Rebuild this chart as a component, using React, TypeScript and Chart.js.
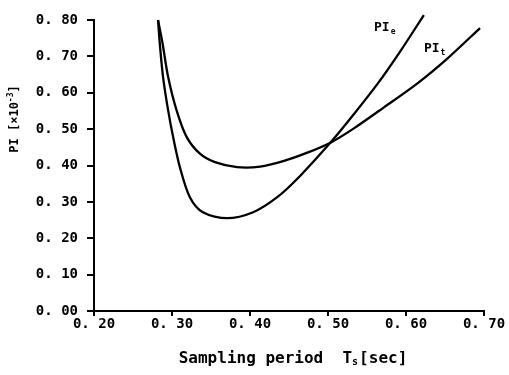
import { useEffect, useRef } from 'react';
import { Chart, registerables } from 'chart.js';

Chart.register(...registerables);

const xTickLabels = ['0. 20', '0. 30', '0. 40', '0. 50', '0. 60', '0. 70'];
const yTickLabels = ['0. 00', '0. 10', '0. 20', '0. 30', '0. 40', '0. 50', '0. 60', '0. 70', '0. 80'];

const peX = [0.2821, 0.2843, 0.2885, 0.2950, 0.3014, 0.3100, 0.3229, 0.3396, 0.3705, 0.4040, 0.4349, 0.4645, 0.5040, 0.5327, 0.5637, 0.5933, 0.6229];
const peY = [0.800, 0.7367, 0.6439, 0.5523, 0.4788, 0.3963, 0.3129, 0.2716, 0.2551, 0.2716, 0.3129, 0.372, 0.465, 0.540, 0.625, 0.716, 0.8135];

const ptX = [0.2821, 0.2878, 0.2950, 0.3058, 0.3187, 0.3358, 0.3551, 0.3834, 0.4130, 0.4426, 0.4735, 0.5044, 0.5327, 0.5713, 0.6151, 0.6537, 0.6949];
const ptY = [0.800, 0.7367, 0.6439, 0.5523, 0.4788, 0.4326, 0.4092, 0.3954, 0.3968, 0.4119, 0.4353, 0.4642, 0.5014, 0.5592, 0.6266, 0.6954, 0.7779];

const seriesLabels = [
  { main: 'PI', sub: 'e', x: 0.559, y: 0.778 },
  { main: 'PI', sub: 't', x: 0.623, y: 0.72 },
];

const xTitle = 'Sampling period  T';
const xTitleSub = 's';
const xTitleEnd = '[sec]';
const yTitle = 'PI [×10';
const yTitleSup = '-3';
const yTitleEnd = ']';

const FONT = '"DejaVu Sans Mono", monospace';

export default function App() {
  const ref = useRef<HTMLCanvasElement | null>(null);

  useEffect(() => {
    document.body.style.margin = '0';
    const canvas = ref.current;
    if (!canvas) return;

    const textPlugin = {
      id: 'texts',
      afterDraw(chart: any) {
        const ctx = chart.ctx as CanvasRenderingContext2D;
        const xs = chart.scales.x;
        const ys = chart.scales.y;
        ctx.save();
        ctx.fillStyle = '#000';
        ctx.textBaseline = 'middle';
        for (const l of seriesLabels) {
          const px = xs.getPixelForValue(l.x);
          const py = ys.getPixelForValue(l.y);
          ctx.font = `bold 13px ${FONT}`;
          ctx.textAlign = 'left';
          ctx.fillText(l.main, px, py);
          const w = ctx.measureText(l.main).width;
          ctx.font = `bold 8px ${FONT}`;
          ctx.fillText(l.sub, px + w + 1, py + 4);
        }
        // x title
        ctx.font = `bold 16px ${FONT}`;
        ctx.textAlign = 'left';
        const w1 = ctx.measureText(xTitle).width;
        ctx.font = `bold 10px ${FONT}`;
        const w2 = ctx.measureText(xTitleSub).width;
        ctx.font = `bold 16px ${FONT}`;
        const w3 = ctx.measureText(xTitleEnd).width;
        const total = w1 + w2 + w3 + 1;
        let sx = 293 - total / 2;
        const sy = 359;
        ctx.fillText(xTitle, sx, sy);
        sx += w1;
        ctx.font = `bold 10px ${FONT}`;
        ctx.fillText(xTitleSub, sx, sy + 3);
        sx += w2 + 1;
        ctx.font = `bold 16px ${FONT}`;
        ctx.fillText(xTitleEnd, sx, sy);
        // y title
        ctx.translate(15, 119);
        ctx.rotate(-Math.PI / 2);
        ctx.font = `bold 12px ${FONT}`;
        const a = ctx.measureText(yTitle).width;
        ctx.font = `bold 8px ${FONT}`;
        const b = ctx.measureText(yTitleSup).width;
        ctx.font = `bold 12px ${FONT}`;
        const c = ctx.measureText(yTitleEnd).width;
        let ty = -(a + b + c) / 2;
        ctx.fillText(yTitle, ty, 0);
        ty += a;
        ctx.font = `bold 8px ${FONT}`;
        ctx.fillText(yTitleSup, ty, -4);
        ty += b;
        ctx.font = `bold 12px ${FONT}`;
        ctx.fillText(yTitleEnd, ty, 0);
        ctx.restore();
      },
    };

    const chart = new Chart(canvas, {
      type: 'scatter',
      data: {
        datasets: [
          {
            label: 'PIe',
            data: peX.map((x, i) => ({ x, y: peY[i] })),
            showLine: true,
            borderColor: '#000',
            borderWidth: 2.3,
            pointRadius: 0,
            tension: 0.3,
          },
          {
            label: 'PIt',
            data: ptX.map((x, i) => ({ x, y: ptY[i] })),
            showLine: true,
            borderColor: '#000',
            borderWidth: 2.3,
            pointRadius: 0,
            tension: 0.3,
          },
        ],
      },
      options: {
        animation: false,
        responsive: false,
        clip: false as any,
        layout: { padding: { top: 20, right: 25, left: 0, bottom: 0 } },
        plugins: { legend: { display: false }, tooltip: { enabled: false } },
        scales: {
          x: {
            type: 'linear',
            min: 0.2,
            max: 0.7,
            afterFit: (s: any) => { s.height = 64; },
            afterBuildTicks: (s: any) => {
              s.ticks = xTickLabels.map((_, i) => ({ value: 0.2 + i * 0.1 }));
            },
            ticks: {
              color: '#000',
              font: { family: FONT, size: 14, weight: 'bold' },
              padding: 0,
              maxRotation: 0,
              autoSkip: false,
              callback: (_v: any, i: number) => xTickLabels[i],
            },
            grid: { display: true, drawOnChartArea: false, drawTicks: true, tickLength: 5, color: '#000', lineWidth: 2 },
            border: { display: true, color: '#000', width: 2 },
          },
          y: {
            type: 'linear',
            min: 0,
            max: 0.8,
            afterFit: (s: any) => { s.width = 94; },
            afterBuildTicks: (s: any) => {
              s.ticks = yTickLabels.map((_, i) => ({ value: i * 0.1 }));
            },
            ticks: {
              color: '#000',
              font: { family: FONT, size: 14, weight: 'bold' },
              padding: 9,
              autoSkip: false,
              callback: (_v: any, i: number) => yTickLabels[i],
            },
            grid: { display: true, drawOnChartArea: false, drawTicks: true, tickLength: 7, color: '#000', lineWidth: 2 },
            border: { display: true, color: '#000', width: 2 },
          },
        },
      },
      plugins: [textPlugin],
    });
    return () => chart.destroy();
  }, []);

  return (
    <div style={{ position: 'absolute', left: 0, top: 0, width: 509, height: 375, background: '#fff' }}>
      <canvas ref={ref} width={509} height={375} style={{ width: 509, height: 375, display: 'block' }} />
    </div>
  );
}
